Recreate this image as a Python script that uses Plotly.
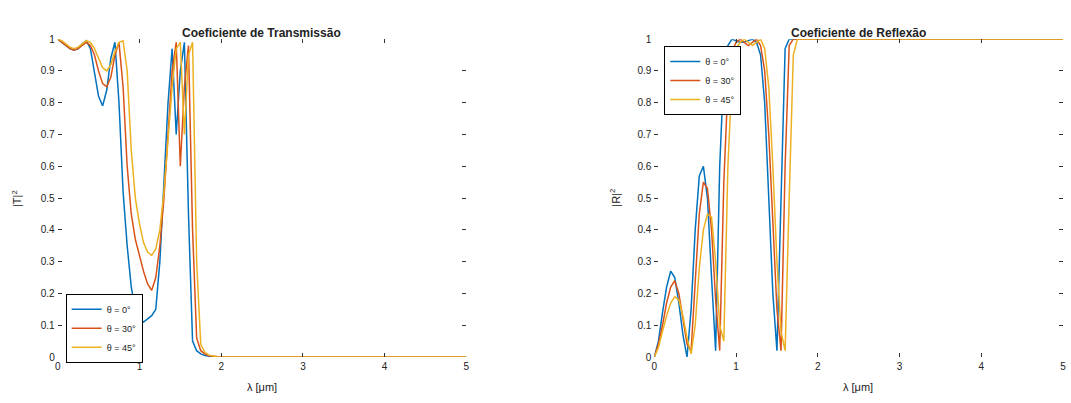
import plotly.graph_objects as go

# ---------------- data ----------------
lam = [0, 0.05, 0.1, 0.15, 0.2, 0.25, 0.3, 0.35, 0.4, 0.45, 0.5, 0.55, 0.6, 0.65, 0.7,
       0.75, 0.8, 0.85, 0.9, 0.95, 1.0, 1.05, 1.1, 1.15, 1.2, 1.25, 1.3, 1.35, 1.4,
       1.45, 1.5, 1.55, 1.6, 1.65, 1.7, 1.75, 1.8, 1.85, 1.9, 1.95, 2.0, 5.0]

series_names = ["θ = 0°", "θ = 30°", "θ = 45°"]

T_1 = [1.00, 0.99, 0.98, 0.97, 0.965, 0.97, 0.985, 0.995, 0.97, 0.90, 0.82, 0.79, 0.84, 0.94, 0.99,
       0.80, 0.52, 0.35, 0.22, 0.15, 0.12, 0.11, 0.12, 0.13, 0.15, 0.30, 0.55, 0.80, 0.97,
       0.70, 0.90, 0.99, 0.45, 0.05, 0.02, 0.01, 0.005, 0.002, 0.001, 0.0, 0.0, 0.0]
T_2 = [1.00, 0.99, 0.98, 0.97, 0.965, 0.97, 0.98, 0.99, 0.98, 0.95, 0.90, 0.86, 0.85, 0.88, 0.95,
       0.99, 0.85, 0.60, 0.45, 0.37, 0.32, 0.27, 0.23, 0.21, 0.25, 0.35, 0.50, 0.70, 0.90,
       0.99, 0.60, 0.85, 0.98, 0.40, 0.06, 0.02, 0.01, 0.004, 0.002, 0.001, 0.0, 0.0]
T_3 = [1.00, 0.995, 0.985, 0.975, 0.97, 0.975, 0.985, 0.995, 0.99, 0.97, 0.94, 0.91, 0.90, 0.92, 0.96,
       0.99, 0.995, 0.90, 0.65, 0.50, 0.42, 0.36, 0.33, 0.32, 0.34, 0.40, 0.52, 0.68, 0.85,
       0.97, 0.99, 0.70, 0.95, 0.99, 0.30, 0.04, 0.015, 0.006, 0.003, 0.001, 0.0, 0.0]

R_1 = [0.0, 0.05, 0.14, 0.22, 0.27, 0.25, 0.17, 0.07, 0.0, 0.15, 0.40, 0.57, 0.60, 0.50, 0.25,
       0.02, 0.60, 0.90, 0.98, 1.0, 0.995, 0.99, 0.99, 0.995, 1.0, 0.99, 0.95, 0.80, 0.50,
       0.20, 0.02, 0.50, 0.97, 1.0, 1.0, 1.0, 1.0, 1.0, 1.0, 1.0, 1.0, 1.0]
R_2 = [0.0, 0.04, 0.10, 0.17, 0.22, 0.24, 0.20, 0.12, 0.04, 0.02, 0.25, 0.45, 0.55, 0.53, 0.40,
       0.18, 0.02, 0.55, 0.85, 0.96, 0.99, 1.0, 0.99, 0.98, 0.99, 1.0, 0.98, 0.90, 0.70,
       0.40, 0.15, 0.02, 0.60, 0.98, 1.0, 1.0, 1.0, 1.0, 1.0, 1.0, 1.0, 1.0]
R_3 = [0.0, 0.03, 0.08, 0.13, 0.17, 0.19, 0.18, 0.13, 0.06, 0.01, 0.10, 0.28, 0.40, 0.45, 0.44,
       0.30, 0.10, 0.05, 0.60, 0.88, 0.97, 0.99, 1.0, 0.99, 0.98, 0.99, 1.0, 0.97, 0.85,
       0.60, 0.30, 0.08, 0.02, 0.50, 0.95, 1.0, 1.0, 1.0, 1.0, 1.0, 1.0, 1.0]

x_ticks = [0, 1, 2, 3, 4, 5]
y_ticks = [0, 0.1, 0.2, 0.3, 0.4, 0.5, 0.6, 0.7, 0.8, 0.9, 1]

colors = ["#0072BD", "#D95319", "#EDB120"]

# ---------------- figure ----------------
W, H = 1071, 403
fig = go.Figure()

for i, (ys, name) in enumerate(zip([T_1, T_2, T_3], series_names)):
    fig.add_trace(go.Scatter(x=lam, y=ys, mode="lines", name=name,
                             line=dict(color=colors[i], width=1.5),
                             xaxis="x", yaxis="y", legend="legend"))
for i, (ys, name) in enumerate(zip([R_1, R_2, R_3], series_names)):
    fig.add_trace(go.Scatter(x=lam, y=ys, mode="lines", name=name,
                             line=dict(color=colors[i], width=1.5),
                             xaxis="x2", yaxis="y2", legend="legend2"))

def px_x(p):
    return p / W

def px_y(p):
    return 1 - p / H

axis_common = dict(ticks="inside", ticklen=4, tickcolor="#333333", showgrid=False,
                   zeroline=False, showline=True, linecolor="rgba(0,0,0,0)",
                   mirror="ticks", tickfont=dict(family="Liberation Sans", size=10, color="#222222"))

fig.update_layout(
    width=W, height=H,
    margin=dict(l=0, r=0, t=0, b=0),
    paper_bgcolor="white", plot_bgcolor="white",
    font=dict(family="Liberation Sans", size=10, color="#222222"),
    xaxis=dict(domain=[px_x(55), px_x(466)], range=[0, 5], tickvals=x_ticks,
               anchor="y", **axis_common),
    yaxis=dict(domain=[px_y(361), px_y(35)], range=[0, 1], tickvals=y_ticks,
               anchor="x", **axis_common),
    xaxis2=dict(domain=[px_x(655), px_x(1066)], range=[0, 5], tickvals=x_ticks,
                anchor="y2", **axis_common),
    yaxis2=dict(domain=[px_y(361), px_y(35)], range=[0, 1], tickvals=y_ticks,
                anchor="x2", **axis_common),
    legend=dict(x=px_x(63), y=px_y(296), xanchor="left", yanchor="top",
                bgcolor="white", bordercolor="black", borderwidth=1,
                font=dict(size=9), tracegroupgap=0, itemwidth=30),
    legend2=dict(x=px_x(665), y=px_y(42), xanchor="left", yanchor="top",
                 bgcolor="white", bordercolor="black", borderwidth=1,
                 font=dict(size=9), tracegroupgap=0, itemwidth=30),
    showlegend=True,
)

annots = [
    dict(text="<b>Coeficiente de Transmissão</b>", x=px_x(260), y=px_y(29), font=dict(size=12)),
    dict(text="<b>Coeficiente de Reflexão</b>", x=px_x(860), y=px_y(29), font=dict(size=12)),
    dict(text="λ [μm]", x=px_x(260), y=px_y(392), font=dict(size=11)),
    dict(text="λ [μm]", x=px_x(860), y=px_y(392), font=dict(size=11)),
    dict(text="|T|<sup>2</sup>", x=px_x(14), y=px_y(198), textangle=-90, font=dict(size=11)),
    dict(text="|R|<sup>2</sup>", x=px_x(616), y=px_y(198), textangle=-90, font=dict(size=11)),
]
for a in annots:
    fig.add_annotation(xref="paper", yref="paper", showarrow=False,
                       xanchor="center", yanchor="middle", **a)

fig.write_html("out.html")
